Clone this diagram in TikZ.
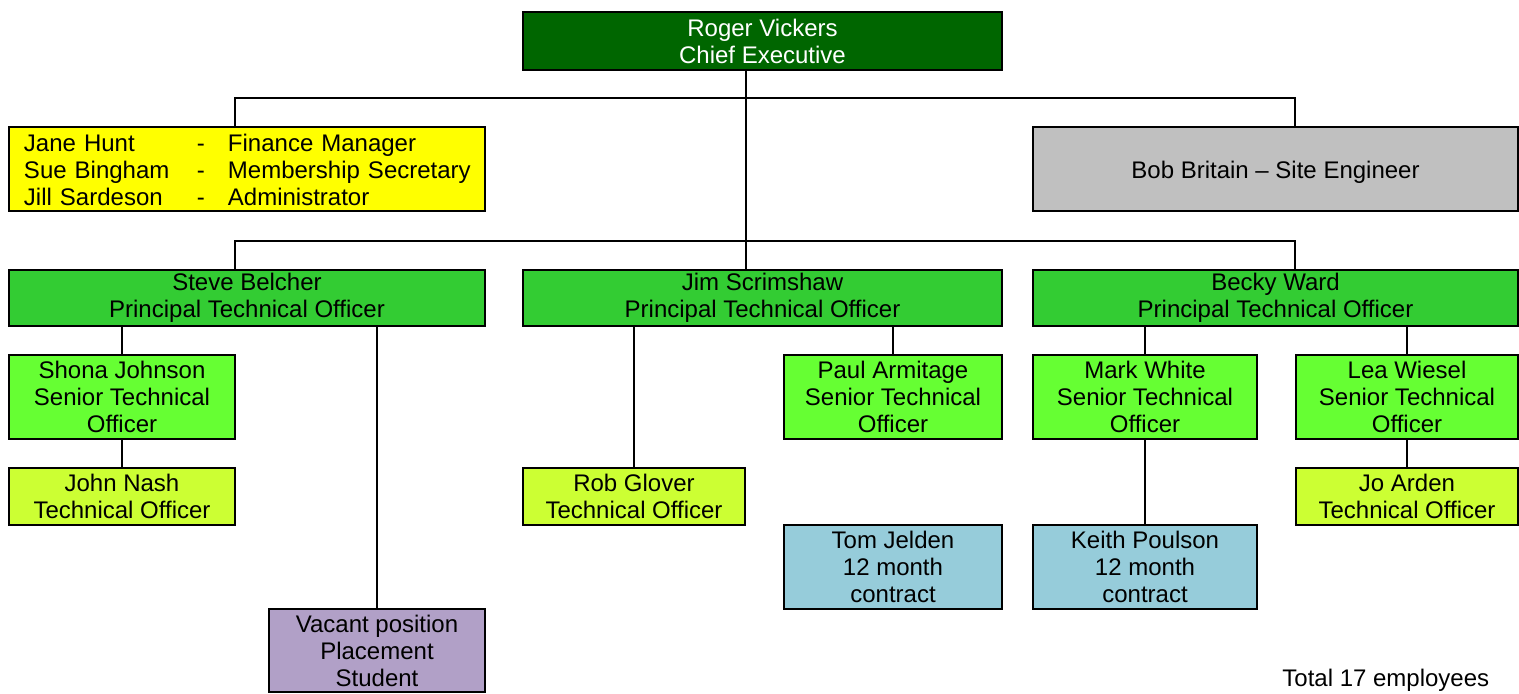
\documentclass[tikz,border=0pt]{standalone}
\usepackage{fontspec}
\setmainfont{Liberation Sans}
\definecolor{ceo}{HTML}{006600}
\definecolor{pto}{HTML}{33CC33}
\definecolor{sto}{HTML}{66FF33}
\definecolor{tof}{HTML}{CCFF33}
\definecolor{ctr}{HTML}{96CCDA}
\definecolor{vac}{HTML}{B1A0C7}
\definecolor{grey}{HTML}{C0C0C0}
\definecolor{yel}{HTML}{FFFF00}
\tikzset{
  box/.style={draw=black, line width=1.1pt, rectangle, inner sep=0pt, align=center,
    font=\fontsize{12}{13.5}\selectfont},
  link/.style={draw=black, line width=0.85pt},
}
\newcommand\obox[7]{%
  \pgfmathsetmacro\oboxw{(#5-#3)*0.5}\pgfmathsetmacro\oboxh{(#6-#4)*0.5}%
  \node[box,#2,minimum width=\oboxw pt,minimum height=\oboxh pt] (#1) at ({(#3+#5)/2},{(#4+#6)/2}) {#7};}
\begin{document}
\begin{tikzpicture}[x=0.5pt,y=-0.5pt]
\useasboundingbox (0,0) rectangle (1519,693);
\obox{roger}{fill=ceo,text=white}{523}{12}{1002}{70}{Roger Vickers\\Chief Executive}
\obox{yellow}{fill=yel,text width=223pt,align=left}{9}{127}{485}{211}{%
  \raisebox{-1.8pt}[\height][\depth]{\begin{tabular}{@{}p{86.5pt}@{}p{15.5pt}@{}l@{}}
  Jane Hunt & - & Finance Manager\\
  Sue Bingham & - & Membership Secretary\\
  Jill Sardeson & - & Administrator
  \end{tabular}}}
\obox{grey}{fill=grey}{1033}{127}{1518}{211}{\raisebox{-1.5pt}[\height][\depth]{Bob Britain – Site Engineer}}
\obox{steve}{fill=pto}{9}{270}{485}{326}{Steve Belcher\\Principal Technical Officer}
\obox{jim}{fill=pto}{523}{270}{1002}{326}{Jim Scrimshaw\\Principal Technical Officer}
\obox{becky}{fill=pto}{1033}{270}{1518}{326}{Becky Ward\\Principal Technical Officer}
\obox{shona}{fill=sto}{9}{355}{235}{439}{Shona Johnson\\Senior Technical\\Officer}
\obox{paul}{fill=sto}{784}{355}{1002}{439}{Paul Armitage\\Senior Technical\\Officer}
\obox{mark}{fill=sto}{1033}{355}{1257}{439}{Mark White\\Senior Technical\\Officer}
\obox{lea}{fill=sto}{1296}{355}{1518}{439}{Lea Wiesel\\Senior Technical\\Officer}
\obox{john}{fill=tof}{9}{468}{235}{525}{John Nash\\Technical Officer}
\obox{rob}{fill=tof}{523}{468}{745}{525}{Rob Glover\\Technical Officer}
\obox{jo}{fill=tof}{1296}{468}{1518}{525}{Jo Arden\\Technical Officer}
\obox{tom}{fill=ctr}{784}{525}{1002}{609}{Tom Jelden\\12 month\\contract}
\obox{keith}{fill=ctr}{1033}{525}{1257}{609}{Keith Poulson\\12 month\\contract}
\obox{vacant}{fill=vac}{269}{609}{485}{692}{Vacant position\\Placement\\Student}
\node[anchor=west, inner sep=0pt, font=\fontsize{12}{13.5}\selectfont] (total) at (1282,680) {Total 17 employees};
% connector helpers
\coordinate (h1) at (746,98);
\coordinate (h2) at (746,241);
\coordinate (bl) at (235,0);
\coordinate (br) at (1295,0);
\draw[link] (roger.south -| h1) -- (jim.north -| h1);
\draw[link] (yellow.north -| bl) |- (h1) -| (grey.north -| br);
\draw[link] (steve.north -| bl) |- (h2) -| (becky.north -| br);
\draw[link] (steve.south -| shona.north) -- (shona.north);
\draw[link] (shona.south) -- (john.north);
\draw[link] (steve.south -| vacant.north) -- (vacant.north);
\draw[link] (jim.south -| rob.north) -- (rob.north);
\draw[link] (jim.south -| paul.north) -- (paul.north);
\draw[link] (becky.south -| mark.north) -- (mark.north);
\draw[link] (mark.south) -- (keith.north);
\draw[link] (becky.south -| lea.north) -- (lea.north);
\draw[link] (lea.south) -- (jo.north);
\end{tikzpicture}
\end{document}
